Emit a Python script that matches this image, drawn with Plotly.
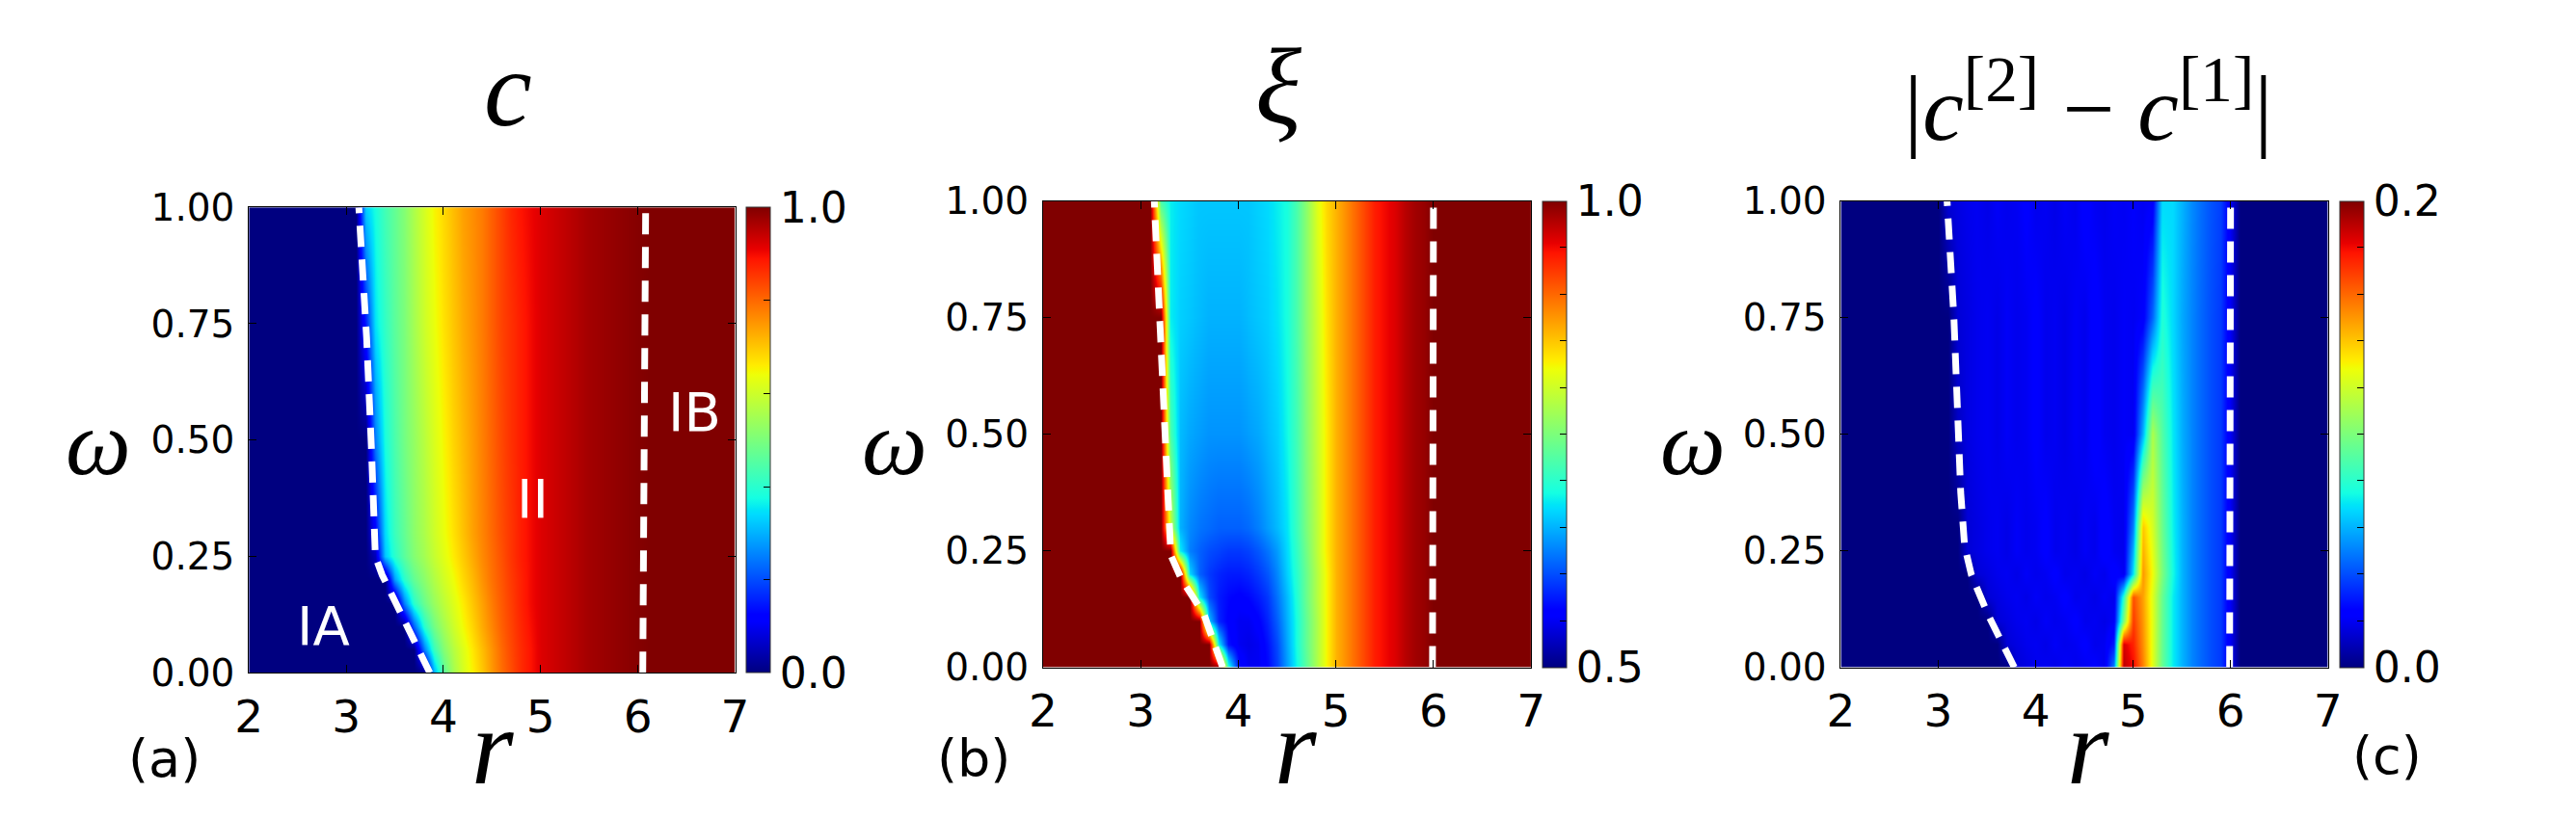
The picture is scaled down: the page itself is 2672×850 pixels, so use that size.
import plotly.graph_objects as go

W, H = 2672, 850

# ---------------- data ----------------
r_grid = [2.0, 2.1, 2.2, 2.3, 2.4, 2.5, 2.6, 2.7, 2.8, 2.9,
          3.0, 3.1, 3.2, 3.3, 3.4, 3.5, 3.6, 3.7, 3.8, 3.9,
          4.0, 4.1, 4.2, 4.3, 4.4, 4.5, 4.6, 4.7, 4.8, 4.9,
          5.0, 5.1, 5.2, 5.3, 5.4, 5.5, 5.6, 5.7, 5.8, 5.9,
          6.0, 6.1, 6.2, 6.3, 6.4, 6.5, 6.6, 6.7, 6.8, 6.9, 7.0]
w_rows = [0.0, 0.05, 0.1, 0.15, 0.2, 0.25, 0.3, 0.5, 0.75, 1.0]

# panel (a): c
TAIL_C = [0.92, 0.93, 0.94, 0.95, 0.96, 0.97, 0.975, 0.98, 0.985, 0.99, 0.995,
          1, 1, 1, 1, 1, 1, 1, 1, 1, 1]
c_rows = [
    [0] * 19 + [0.30, 0.46, 0.55, 0.61, 0.655, 0.70, 0.75, 0.795, 0.83, 0.865, 0.89] + TAIL_C,
    [0] * 18 + [0.25, 0.42, 0.51, 0.57, 0.62, 0.665, 0.71, 0.755, 0.80, 0.835, 0.865, 0.89] + TAIL_C,
    [0] * 17 + [0.22, 0.40, 0.49, 0.55, 0.60, 0.645, 0.685, 0.73, 0.77, 0.81, 0.84, 0.87, 0.895] + TAIL_C,
    [0] * 16 + [0.25, 0.40, 0.48, 0.535, 0.58, 0.62, 0.66, 0.70, 0.74, 0.78, 0.815, 0.845, 0.875, 0.90] + TAIL_C,
    [0] * 15 + [0.28, 0.40, 0.47, 0.52, 0.565, 0.605, 0.64, 0.68, 0.715, 0.755, 0.79, 0.82, 0.85, 0.875, 0.90] + TAIL_C,
    [0] * 13 + [0.05, 0.32, 0.40, 0.46, 0.51, 0.55, 0.59, 0.625, 0.66, 0.695, 0.73, 0.765, 0.795, 0.825, 0.855, 0.88, 0.90] + TAIL_C,
    [0] * 13 + [0.12, 0.34, 0.42, 0.47, 0.52, 0.56, 0.60, 0.635, 0.67, 0.705, 0.74, 0.77, 0.80, 0.83, 0.855, 0.88, 0.90] + TAIL_C,
    [0] * 13 + [0.25, 0.38, 0.44, 0.49, 0.53, 0.575, 0.615, 0.65, 0.685, 0.715, 0.745, 0.775, 0.805, 0.835, 0.86, 0.88, 0.90] + TAIL_C,
    [0] * 12 + [0.15, 0.35, 0.41, 0.46, 0.50, 0.55, 0.60, 0.635, 0.67, 0.70, 0.73, 0.755, 0.78, 0.81, 0.84, 0.86, 0.88, 0.90] + TAIL_C,
    [0] * 12 + [0.33, 0.38, 0.43, 0.47, 0.51, 0.56, 0.61, 0.65, 0.68, 0.71, 0.74, 0.76, 0.78, 0.81, 0.84, 0.87, 0.89, 0.905] + TAIL_C,
]

# panel (b): xi
TAIL_XI = [0.88, 0.90, 0.92, 0.94, 0.95, 0.96, 0.975, 0.985, 0.99, 1.0,
           1, 1, 1, 1, 1, 1, 1, 1, 1, 1]
xi_rows = [
    [1] * 19 + [0.70, 0.57, 0.55, 0.55, 0.565, 0.595, 0.64, 0.685, 0.73, 0.78, 0.825, 0.86] + TAIL_XI,
    [1] * 18 + [0.68, 0.57, 0.55, 0.545, 0.55, 0.57, 0.60, 0.645, 0.69, 0.735, 0.78, 0.825, 0.86] + TAIL_XI,
    [1] * 17 + [0.66, 0.58, 0.56, 0.55, 0.55, 0.56, 0.58, 0.61, 0.65, 0.69, 0.735, 0.78, 0.825, 0.86] + TAIL_XI,
    [1] * 16 + [0.68, 0.60, 0.575, 0.565, 0.56, 0.565, 0.575, 0.59, 0.62, 0.655, 0.695, 0.74, 0.785, 0.825, 0.86] + TAIL_XI,
    [1] * 15 + [0.67, 0.61, 0.59, 0.58, 0.575, 0.575, 0.58, 0.59, 0.605, 0.63, 0.665, 0.70, 0.74, 0.785, 0.825, 0.86] + TAIL_XI,
    [1] * 14 + [0.68, 0.625, 0.61, 0.60, 0.595, 0.59, 0.59, 0.595, 0.605, 0.62, 0.64, 0.67, 0.705, 0.745, 0.79, 0.83, 0.86] + TAIL_XI,
    [1] * 13 + [0.80, 0.65, 0.63, 0.62, 0.615, 0.61, 0.61, 0.61, 0.615, 0.625, 0.64, 0.655, 0.675, 0.71, 0.75, 0.79, 0.83, 0.86] + TAIL_XI,
    [1] * 13 + [0.72, 0.655, 0.645, 0.64, 0.635, 0.635, 0.635, 0.635, 0.64, 0.645, 0.655, 0.665, 0.685, 0.715, 0.755, 0.795, 0.83, 0.86] + TAIL_XI,
    [1] * 13 + [0.68, 0.665, 0.66, 0.655, 0.65, 0.65, 0.65, 0.65, 0.655, 0.66, 0.665, 0.675, 0.69, 0.72, 0.76, 0.80, 0.835, 0.86] + TAIL_XI,
    [1] * 12 + [0.72, 0.68, 0.67, 0.665, 0.66, 0.66, 0.66, 0.66, 0.66, 0.66, 0.665, 0.67, 0.68, 0.69, 0.72, 0.76, 0.81, 0.84, 0.86] + TAIL_XI,
]

# panel (c): |c[2]-c[1]|
NOISE = [0.017, 0.019, 0.020, 0.018, 0.021, 0.019, 0.020, 0.023, 0.019, 0.020, 0.018,
         0.021, 0.019, 0.024, 0.020, 0.019, 0.021, 0.020, 0.022, 0.020, 0.021]
TAIL_D = [0] * 10
d_rows = [
    [0] * 18 + [0.015] + NOISE[:9] + [0.05, 0.19, 0.18, 0.155, 0.125, 0.095, 0.072, 0.06, 0.051, 0.045, 0.04, 0.036, 0.02] + TAIL_D,
    [0] * 17 + [0.015] + NOISE[:10] + [0.03, 0.185, 0.175, 0.152, 0.125, 0.095, 0.072, 0.06, 0.051, 0.045, 0.04, 0.036, 0.02] + TAIL_D,
    [0] * 16 + [0.015] + NOISE[:12] + [0.10, 0.17, 0.15, 0.125, 0.095, 0.072, 0.06, 0.051, 0.045, 0.04, 0.036, 0.02] + TAIL_D,
    [0] * 15 + [0.015] + NOISE[:13] + [0.08, 0.165, 0.148, 0.124, 0.095, 0.072, 0.06, 0.051, 0.045, 0.04, 0.036, 0.02] + TAIL_D,
    [0] * 14 + [0.015] + NOISE[:15] + [0.07, 0.15, 0.128, 0.10, 0.075, 0.06, 0.051, 0.045, 0.04, 0.036, 0.02] + TAIL_D,
    [0] * 13 + [0.015] + NOISE[:16] + [0.06, 0.145, 0.125, 0.098, 0.074, 0.06, 0.051, 0.045, 0.04, 0.036, 0.02] + TAIL_D,
    [0] * 13 + [0.015] + NOISE[:16] + [0.05, 0.14, 0.122, 0.096, 0.073, 0.06, 0.051, 0.045, 0.04, 0.036, 0.02] + TAIL_D,
    [0] * 12 + [0.012] + NOISE[:18] + [0.06, 0.112, 0.09, 0.071, 0.059, 0.051, 0.045, 0.04, 0.036, 0.02] + TAIL_D,
    [0] * 12 + [0.015] + NOISE[:19] + [0.045, 0.078, 0.068, 0.058, 0.051, 0.045, 0.04, 0.036, 0.02] + TAIL_D,
    [0] * 11 + [0.015] + NOISE[:21] + [0.068, 0.068, 0.06, 0.052, 0.046, 0.041, 0.037, 0.02] + TAIL_D,
]

for rows in (c_rows, xi_rows, d_rows):
    assert len(rows) == len(w_rows)
    for row in rows:
        assert len(row) == len(r_grid), len(row)

# boundary lines (dashed)
a_left_r = [3.86, 3.53, 3.37, 3.30, 3.29, 3.26, 3.21, 3.13]
a_left_w = [0.0, 0.147, 0.21, 0.25, 0.34, 0.48, 0.72, 1.0]
a_right_r = [6.05, 6.08]
b_left_r = [3.84, 3.65, 3.42, 3.31, 3.28, 3.25, 3.20, 3.14]
b_left_w = [0.0, 0.113, 0.188, 0.24, 0.368, 0.484, 0.728, 1.0]
b_right_r = [5.99, 6.0]
c_left_r = [3.78, 3.51, 3.34, 3.27, 3.23, 3.20, 3.16, 3.09]
c_left_w = [0.0, 0.113, 0.198, 0.26, 0.375, 0.538, 0.75, 1.0]
c_right_r = [5.99, 6.0]
right_w = [0.0, 1.0]

x_ticks = [2, 3, 4, 5, 6, 7]
y_ticks = [0.0, 0.25, 0.5, 0.75, 1.0]
y_ticktext = ["0.00", "0.25", "0.50", "0.75", "1.00"]

# colour-bar ranges: (zmin, zmax, tick step, label every n ticks)
cb_specs = [(0.0, 1.0, 0.2, 5), (0.5, 1.0, 0.05, 10), (0.0, 0.2, 0.02, 10)]

# ---------------- style ----------------
JET = [[0.0, "rgb(0,0,128)"], [0.11, "rgb(0,0,255)"], [0.125, "rgb(0,0,255)"],
       [0.34, "rgb(0,219,255)"], [0.35, "rgb(0,229,247)"], [0.375, "rgb(21,255,226)"],
       [0.64, "rgb(238,255,8)"], [0.65, "rgb(247,246,0)"], [0.66, "rgb(255,236,0)"],
       [0.89, "rgb(255,19,0)"], [0.91, "rgb(232,0,0)"], [1.0, "rgb(128,0,0)"]]

panels = [
    dict(x0=246, x1=756, top=204, bot=714, cbx=768),
    dict(x0=1079, x1=1591, top=197, bot=708, cbx=1603),
    dict(x0=1916, x1=2427, top=197, bot=708, cbx=2439),
]

fig = go.Figure()

for i, (p, z, (zmin, zmax, step, nlab)) in enumerate(zip(panels, (c_rows, xi_rows, d_rows), cb_specs)):
    sfx = "" if i == 0 else str(i + 1)
    fig.add_trace(go.Heatmap(
        x=r_grid, y=w_rows, z=z, zmin=zmin, zmax=zmax, colorscale=JET,
        zsmooth="best", xaxis="x" + sfx, yaxis="y" + sfx, hoverinfo="skip",
        colorbar=dict(
            x=p["cbx"] / W, xanchor="left", xpad=0, ypad=0,
            y=1 - p["top"] / H, yanchor="top", len=(p["bot"] - p["top"]) / H, lenmode="fraction",
            thickness=25, thicknessmode="pixels", outlinewidth=1, outlinecolor="#333",
            tickmode="linear", tick0=zmin, dtick=step, ticklabelstep=nlab, tickformat=".1f",
            ticks="inside", ticklen=7, tickcolor="black",
            tickfont=dict(family="DejaVu Sans", size=44, color="black"),
        ),
    ))

dash_style = dict(color="white", width=7, dash="22px,13px")
lines = [
    ("", a_left_r, a_left_w, a_right_r),
    ("2", b_left_r, b_left_w, b_right_r),
    ("3", c_left_r, c_left_w, c_right_r),
]
for sfx, lr, lw, rr in lines:
    fig.add_trace(go.Scatter(x=lr, y=lw, mode="lines", line=dash_style,
                             xaxis="x" + sfx, yaxis="y" + sfx, showlegend=False, hoverinfo="skip"))
    fig.add_trace(go.Scatter(x=rr, y=right_w, mode="lines", line=dash_style,
                             xaxis="x" + sfx, yaxis="y" + sfx, showlegend=False, hoverinfo="skip"))

ax_common = dict(showline=True, linecolor="black", linewidth=1, mirror="ticks",
                 ticks="inside", ticklen=8, tickwidth=1, tickcolor="black",
                 showgrid=False, zeroline=False)
layout = dict(width=W, height=H, margin=dict(l=0, r=0, t=0, b=0),
              paper_bgcolor="white", plot_bgcolor="white", showlegend=False)
for i, p in enumerate(panels):
    sfx = "" if i == 0 else str(i + 1)
    layout["xaxis" + sfx] = dict(
        ax_common, domain=[p["x0"] / W, p["x1"] / W], range=[2, 7],
        tickvals=x_ticks, anchor="y" + sfx, ticklabelstandoff=4,
        tickfont=dict(family="DejaVu Sans", size=47, color="black"))
    layout["yaxis" + sfx] = dict(
        ax_common, domain=[1 - p["bot"] / H, 1 - p["top"] / H], range=[0, 1],
        tickvals=y_ticks, ticktext=y_ticktext, anchor="x" + sfx, ticklabelstandoff=6,
        tickfont=dict(family="DejaVu Sans", size=39, color="black"))
fig.update_layout(**layout)

SERIF = "Liberation Serif"


def ann(text, px, py, size, family=SERIF, color="black", italic=True):
    if italic:
        text = "<i>" + text + "</i>"
    fig.add_annotation(text=text, x=px / W, y=1 - py / H, xref="paper", yref="paper",
                       xanchor="center", yanchor="middle", showarrow=False,
                       font=dict(family=family, size=size, color=color))


# titles
ann("c", 518, 74, 112)
ann("ξ", 1326, 72, 112)
fig.add_annotation(
    text="|<i>c</i><sup>[2]</sup> − <i>c</i><sup>[1]</sup>|",
    x=2175 / W, y=1 - 88 / H, xref="paper", yref="paper", xanchor="center", yanchor="middle",
    showarrow=False, font=dict(family=SERIF, size=96, color="black"))

# axis labels
for cx in (88, 923, 1761):
    ann("ω", cx, 462, 96)
for cx in (502, 1344, 2175):
    ann("r", cx, 795, 112)

# panel letters
ann("(a)", 157, 808, 54, family="DejaVu Sans", italic=False)
ann("(b)", 1006, 808, 54, family="DejaVu Sans", italic=False)
ann("(c)", 2489, 805, 54, family="DejaVu Sans", italic=False)

# region labels (data coords of panel a)
for txt, rx, wy in (("IA", 2.77, 0.10), ("II", 4.92, 0.375), ("IB", 6.58, 0.56)):
    fig.add_annotation(text=txt, x=rx, y=wy, xref="x", yref="y", showarrow=False,
                       xanchor="center", yanchor="middle",
                       font=dict(family="DejaVu Sans", size=56, color="white"))

fig.write_html("out.html")
